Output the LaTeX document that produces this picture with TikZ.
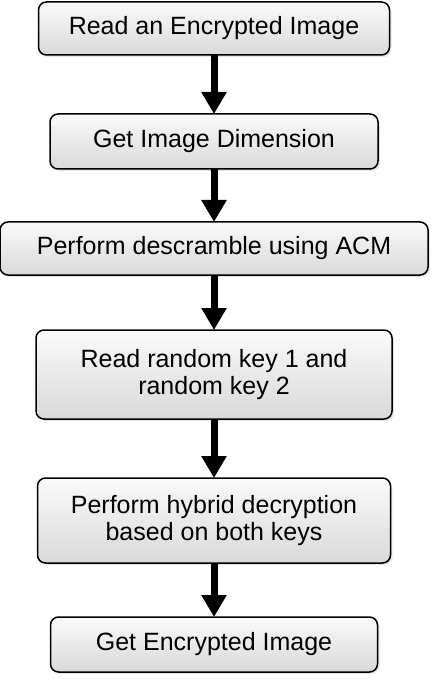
\documentclass[tikz,border=0pt]{standalone}
\usepackage{fontspec}
\setmainfont{Liberation Sans}
\usepackage{tikz}
\usetikzlibrary{arrows.meta, positioning, shadows}

\begin{document}
\begin{tikzpicture}[
    stepbox/.style={rectangle, draw=black, line width=0.75pt, rounded corners=4pt,
                    top color=gray!4, bottom color=gray!30, align=center,
                    font=\fontsize{12.5}{13.5}\selectfont, inner sep=2pt, outer sep=0pt,
                    drop shadow={shadow xshift=1pt, shadow yshift=-1pt, opacity=0.2}},
    flow/.style={-{Triangle[length=11pt, width=12pt]}, line width=3.5pt, black}
]
    \useasboundingbox (0pt,0pt) rectangle (217pt,-339.5pt);

    \node[stepbox, minimum width=175.5pt, minimum height=26.5pt] (read) at (107pt,-14.25pt)
        {Read an Encrypted Image};
    \node[stepbox, minimum width=164pt, minimum height=27.5pt, below=29.5pt of read] (dim)
        {Get Image Dimension};
    \node[stepbox, minimum width=214pt, minimum height=26.5pt, below=26.5pt of dim] (acm)
        {Perform descramble using ACM};
    \node[stepbox, minimum width=178pt, minimum height=44.5pt, below=27.5pt of acm] (keys)
        {Read random key 1 and\\random key 2};
    \node[stepbox, minimum width=176.5pt, minimum height=42.5pt, below=29.5pt of keys] (hybrid)
        {Perform hybrid decryption\\based on both keys};
    \node[stepbox, minimum width=163.5pt, minimum height=27.5pt, below=27pt of hybrid] (result)
        {Get Encrypted Image};

    \draw[flow] (read) -- (dim);
    \draw[flow] (dim) -- (acm);
    \draw[flow] (acm) -- (keys);
    \draw[flow] (keys) -- (hybrid);
    \draw[flow] (hybrid) -- (result);
\end{tikzpicture}
\end{document}
